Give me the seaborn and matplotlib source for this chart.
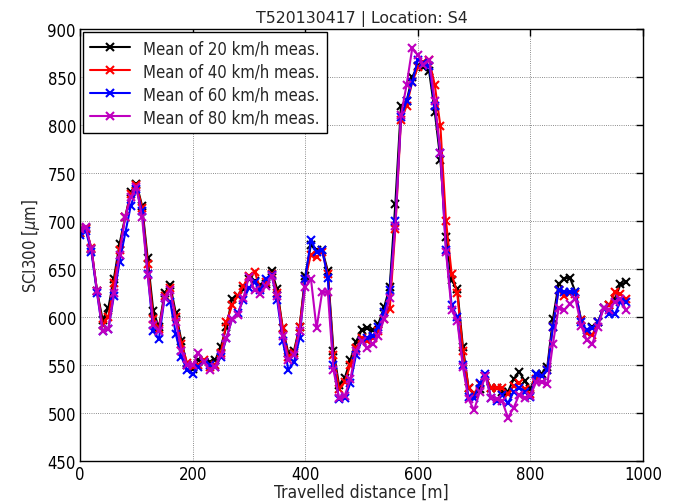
import numpy as np
import pandas as pd
import matplotlib
matplotlib.use("Agg")
import matplotlib.pyplot as plt
import seaborn as sns

# travelled distance [m], one point every 10 m
distance = np.arange(0, 980, 10)

sci_20 = [688, 693, 671, 627, 597, 609, 640, 676, 704, 730,
          739, 716, 661, 606, 589, 625, 633, 604, 575, 550,
          546, 555, 553, 553, 555, 569, 590, 619, 622, 629,
          640, 637, 633, 634, 648, 629, 588, 562, 565, 590,
          643, 675, 670, 670, 648, 565, 529, 536, 555, 574,
          586, 588, 586, 593, 610, 631, 718, 820, 825, 850,
          862, 860, 856, 814, 764, 683, 638, 629, 569, 526,
          520, 525, 538, 526, 526, 522, 522, 535, 543, 533,
          525, 540, 541, 548, 598, 634, 640, 641, 626, 597,
          583, 590, 595, 609, 612, 619, 634, 636]

sci_40 = [688, 692, 672, 627, 592, 600, 635, 670, 704, 728,
          738, 714, 655, 598, 587, 622, 630, 600, 572, 552,
          548, 550, 555, 548, 550, 562, 595, 612, 622, 632,
          643, 647, 630, 636, 645, 625, 588, 558, 562, 590,
          640, 665, 662, 668, 645, 560, 525, 532, 550, 568,
          578, 575, 578, 585, 598, 608, 692, 805, 820, 845,
          860, 866, 868, 842, 799, 700, 645, 625, 565, 526,
          520, 530, 538, 526, 526, 526, 520, 528, 531, 525,
          520, 535, 538, 545, 590, 628, 622, 625, 624, 597,
          583, 581, 595, 609, 612, 626, 624, 619]

sci_60 = [685, 690, 668, 625, 585, 587, 622, 657, 687, 716,
          733, 710, 645, 585, 577, 620, 616, 582, 558, 545,
          540, 548, 553, 550, 548, 558, 578, 598, 604, 618,
          630, 636, 628, 640, 644, 618, 575, 545, 553, 578,
          640, 680, 668, 670, 641, 550, 514, 515, 531, 560,
          575, 578, 580, 590, 605, 628, 700, 808, 825, 845,
          868, 865, 862, 820, 771, 670, 612, 600, 550, 517,
          516, 531, 540, 516, 512, 519, 510, 522, 526, 522,
          517, 540, 538, 545, 590, 628, 626, 626, 626, 595,
          586, 588, 595, 609, 603, 603, 616, 616]

sci_80 = [692, 694, 671, 627, 585, 587, 625, 665, 704, 725,
          735, 704, 644, 592, 585, 620, 628, 595, 565, 550,
          550, 562, 553, 545, 548, 560, 578, 598, 602, 620,
          642, 628, 624, 632, 643, 622, 580, 555, 560, 585,
          631, 640, 588, 626, 626, 545, 515, 518, 535, 565,
          575, 568, 572, 580, 598, 620, 695, 810, 842, 880,
          873, 863, 868, 825, 771, 668, 607, 596, 548, 514,
          503, 522, 538, 516, 514, 512, 495, 505, 519, 515,
          518, 532, 532, 530, 572, 609, 607, 614, 619, 591,
          576, 572, 590, 609, 607, 616, 619, 607]

labels = ["Mean of 20 km/h meas.", "Mean of 40 km/h meas.",
          "Mean of 60 km/h meas.", "Mean of 80 km/h meas."]
colors = ["k", "r", "b", "m"]
series = [sci_20, sci_40, sci_60, sci_80]

sns.set_style("white")
plt.rcParams['font.family'] = ['DejaVu Sans']
plt.rcParams['font.stretch'] = 'condensed'

fig = plt.figure(figsize=(6.79, 5.02), dpi=100)
ax = fig.add_axes([0.118, 0.080, 0.829, 0.860])

for vals, lab, c in zip(series, labels, colors):
    df = pd.DataFrame({"dist": distance, "sci": vals})
    sns.lineplot(data=df, x="dist", y="sci", ax=ax, color=c, label=lab,
                 marker="x", markersize=6, markeredgewidth=1.5,
                 markeredgecolor=c, linewidth=1.5)

ax.set_xlim(0, 1000)
ax.set_ylim(450, 900)
ax.set_xticks(np.arange(0, 1001, 200))
ax.set_yticks(np.arange(450, 901, 50))
ax.grid(True, color="k", linestyle=":", linewidth=0.6, alpha=0.6)
ax.tick_params(direction="in", length=5, width=1, top=True, right=True,
               labelsize=12, colors="k", pad=3)
for s in ax.spines.values():
    s.set_color("k")
    s.set_linewidth(1.0)

ax.set_title("T520130417 | Location: S4", fontsize=11.3, pad=5,
             fontstretch="normal")
ax.set_xlabel("Travelled distance [m]", fontsize=12.5, labelpad=0)
ax.set_ylabel(r"SCI300 [$\mu$m]", fontsize=12, labelpad=4)

leg = ax.legend(loc="upper left", fontsize=12, fancybox=False, framealpha=1,
                borderaxespad=0.2, handlelength=2.4, labelspacing=0.3,
                borderpad=0.4)
leg.get_frame().set_edgecolor("k")
leg.get_frame().set_linewidth(1.0)

fig.savefig("out.png", dpi=100)
